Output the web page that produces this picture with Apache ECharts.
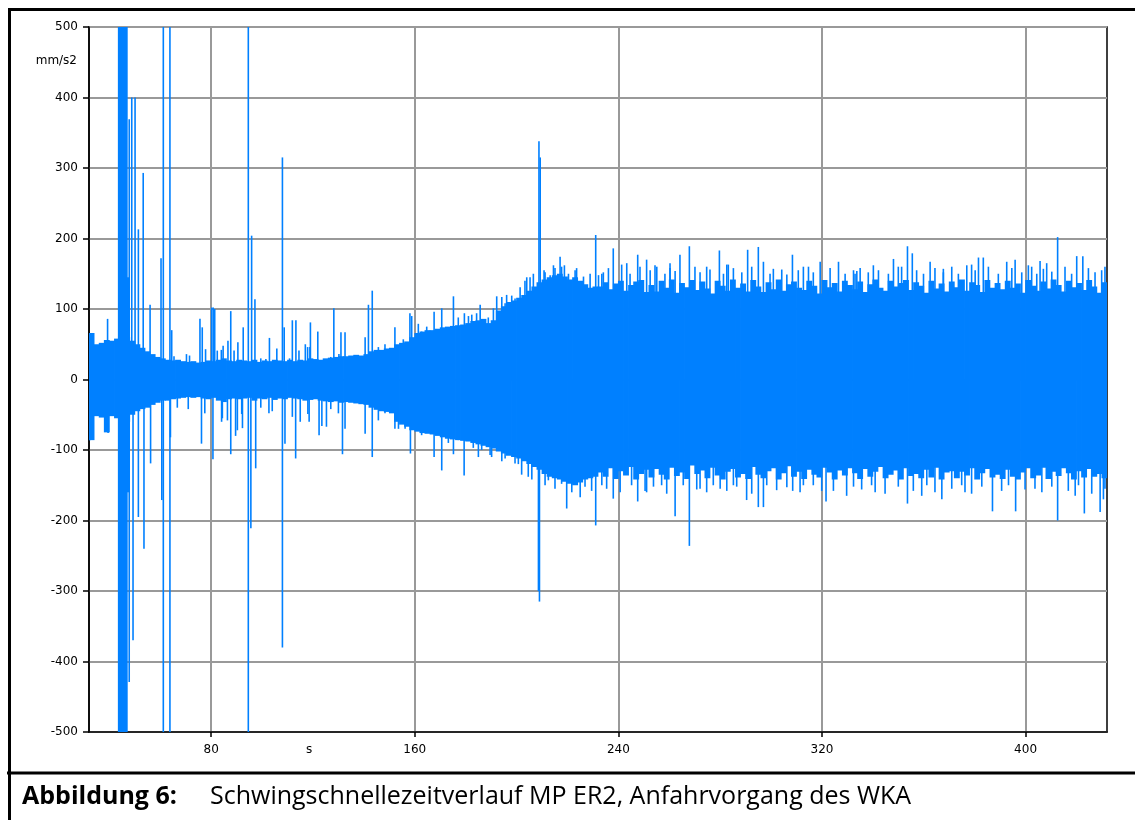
<!DOCTYPE html>
<html><head><meta charset="utf-8">
<script src="https://cdn.jsdelivr.net/npm/echarts@6/dist/echarts.min.js"></script>
<style>html,body{margin:0;padding:0;background:#fff}#c{width:1135px;height:820px}</style>
</head><body><div id="c"></div>
<script>
// ---- data ----
const xTickValues = [80, 160, 240, 320, 400];
const xLabelValues = [80, 118.5, 160, 240, 320, 400];
const xUnitLabel = 's';
const yUnitLabel = 'mm/s2';
const captionBold = 'Abbildung 6:';
const captionText = 'Schwingschnellezeitverlauf MP ER2, Anfahrvorgang des WKA';

// envelope of the dense signal band, one value per 2 s bin starting at 32 s
const envStart = 32;
const envStep = 2;
const envHi = [
  66,50,52,56,55,58,60,60,55,50,
  45,40,36,32,30,28,27,28,26,25,
  26,24,25,27,26,28,30,27,26,28,
  27,26,28,25,27,26,28,27,26,28,
  26,28,27,30,29,28,30,31,32,33,
  33,34,35,34,36,40,42,42,44,45,
  50,52,54,60,66,68,70,70,72,74,
  75,76,77,78,80,83,84,86,80,84,
  98,104,110,112,116,120,126,132,138,142,
  145,148,150,146,142,145,140,135,130,132,
  132,138,128,136,140,126,134,139,141,124,
  134,125,140,130,142,123,137,131,141,127,
  139,129,122,140,133,126,142,130,136,125,
  141,132,124,138,128,142,126,135,139,130,
  127,140,133,122,141,131,137,125,140,134,
  128,139,124,135,142,130,126,140,132,137,
  141,127,138,133,123,140,129,136,125,139,
  131,142,126,138,134,124,141,130,137,128,
  140,130,136,123,141,133,126,139,129,142,
  134,125,140,131,137,127,141,132,123,138
];
const envLo = [
  -86,-52,-54,-75,-52,-55,-60,-60,-50,-45,
  -42,-40,-36,-33,-30,-30,-28,-27,-26,-25,
  -26,-25,-27,-28,-26,-30,-32,-28,-27,-28,
  -27,-26,-30,-27,-28,-26,-29,-27,-28,-26,
  -27,-28,-30,-29,-28,-30,-31,-32,-31,-33,
  -32,-33,-34,-35,-36,-40,-43,-45,-46,-48,
  -60,-64,-67,-72,-74,-76,-77,-78,-80,-82,
  -84,-85,-86,-87,-88,-90,-92,-94,-96,-98,
  -102,-105,-108,-110,-112,-116,-120,-124,-128,-134,
  -138,-140,-142,-145,-148,-150,-146,-142,-140,-138,
  -132,-138,-126,-141,-130,-136,-124,-142,-134,-128,
  -139,-127,-135,-142,-125,-137,-132,-141,-122,-134,
  -129,-140,-125,-136,-142,-131,-127,-139,-134,-141,
  -124,-135,-140,-130,-126,-142,-133,-123,-138,-131,
  -141,-128,-135,-139,-125,-132,-142,-129,-136,-126,
  -133,-141,-127,-138,-131,-124,-140,-135,-129,-142,
  -126,-137,-134,-140,-128,-139,-125,-142,-132,-130,
  -140,-131,-136,-126,-142,-133,-127,-139,-135,-141,
  -128,-138,-142,-132,-126,-140,-136,-125,-141,-131,
  -137,-126,-133,-142,-130,-139,-127,-138,-134,-140
];

// large burst blocks: [start, end, low, high]
const bursts = [[43.5, 47.05, -520, 520], [46.8, 47.9, -160, 145]];

// prominent single spikes: [time, value]
const bigSpikesUp = [[39.3,86],[47.8,369],[48.8,400],[50.1,400],[51.4,213],[53.3,293],[56.0,106],[60.3,172],[61.2,520],[63.8,520],[64.5,70],[75.6,86],[76.5,74],[80.2,102],[80.8,102],[81.4,100],[84.7,48],[87.7,97],[90.5,53],[92.6,74],[94.6,520],[95.9,204],[97.2,114],[102.9,59],[105.8,44],[108.0,315],[108.7,74],[111.9,84],[113.3,84],[117.0,50],[119.0,81],[121.9,68],[128.2,101],[131.0,67],
  [132.6,67],[140.5,60],[141.8,106],[143.3,126],[152.2,74],[158.1,94],[158.8,90],[161.4,79],[167.6,96],[170.6,101],[175.2,118],[179.5,94],[182.4,92],[185.7,106],[192.2,118],[194.2,117],[196.1,120],[198.1,119],[201.4,131],[204.0,145],[205.3,145],[208.8,338],[209.3,315],[210.8,155],[214.5,162],[217.1,174],[218.8,162],[223.6,158],[231.1,205],[233.5,150],
  [238.0,186],[243.3,165],[247.6,177],[251.1,170],[255.1,160],[260.3,165],[264.2,177],[267.9,189],[274.7,160],[279.7,183],[282.6,163],[290.8,184],[295.0,188],[297.0,167],[300.9,157],[308.4,177],[312.7,160],[319.3,167],[326.5,167],[332.4,155],
  [333.0,150],[342.2,155],[348.1,171],[351.3,160],[353.6,189],[355.5,179],[362.5,167],[367.7,157],[376.9,162],[381.5,173],[383.4,173],[392.6,167],[395.9,170],[402.4,160],[405.7,168],[408.3,165],[412.6,202],[420.1,175],[422.5,175],[429.9,155]];
const bigSpikesDown = [[32.3,-86],[39.5,-76],[47.8,-429],[49.3,-370],[51.4,-195],[53.6,-240],[56.2,-119],[60.6,-171],[61.2,-520],[63.8,-520],[64.0,-82],[76.2,-91],[80.7,-113],[84.1,-60],[87.7,-106],[89.6,-80],[92.3,-69],[94.6,-520],[95.6,-211],[97.5,-126],[102.7,-48],[108.0,-380],[109.0,-91],[113.2,-112],[118.5,-60],[122.4,-79],[125.3,-67],[131.6,-106],
  [132.6,-70],[140.5,-77],[143.3,-110],[152.2,-70],[158.3,-105],[167.6,-110],[170.6,-129],[175.2,-106],[179.4,-136],[185.0,-110],[190.2,-110],[194.2,-116],[200.7,-120],[204.6,-138],[208.6,-300],[209.0,-315],[212.5,-143],[219.7,-183],[225.0,-167],[231.1,-207],
  [238.0,-169],[247.6,-173],[251.1,-160],[257.0,-150],[262.3,-194],[267.9,-236],[272.1,-155],[280.0,-155],[285.2,-150],[290.4,-171],[295.0,-181],[297.0,-181],[308.5,-158],[312.7,-150],[319.9,-158],[321.6,-173],[329.7,-165],
  [340.9,-160],[353.6,-176],[359.2,-165],[367.1,-170],[376.2,-160],[387.0,-187],[396.1,-187],[403.7,-155],[412.6,-200],[419.5,-165],[423.1,-190],[429.3,-188],[430.6,-170]];

// smaller teeth on the edges of the band: [time, value]
const teethUp = [[65.4,33],[70.3,36],[71.5,34],[77.8,43],[82.4,41],[84.0,42],[86.6,55],[89.0,41],[99.5,30],[101.5,29],[110.8,30],[114.5,41],[117.9,46],[118.8,46],[127.0,32],[130.2,36],
  [145.7,46],[148.3,50],[155.5,57],[162.7,68],[164.7,75],[173.2,72],[177.1,88],[181.1,90],[184.3,94],[188.9,88],[190.9,101],[195.5,108],[199.4,115],
  [203.3,140],[206.6,150],[211.2,152],[213.2,148],[215.1,158],[217.7,160],[220.4,150],[223.0,155],[226.3,146],[228.9,150],[232.2,148],
  [234.1,152],[236.1,158],[241.3,163],[244.6,150],[248.5,160],[252.5,155],[254.4,162],[258.3,150],[260.3,158],[262.3,154],[270.1,160],[272.1,152],[276.0,156],[281.3,150],[283.2,163],[285.2,158],[288.5,152],[292.4,160],[299.6,150],[304.2,156],[306.2,149],[310.7,155],[314.7,160],[316.6,152],[323.2,158],[329.1,150],[333.7,154],
  [335.0,158],[338.2,152],[340.2,162],[346.1,150],[350.0,160],[357.2,155],[359.9,150],[364.4,158],[367.7,152],[371.0,160],[373.6,150],[378.8,163],[380.2,155],[385.4,160],[389.3,150],[394.6,158],[398.5,152],[401.1,162],[404.4,150],[407.0,157],[410.3,153],[415.5,160],[418.1,150],[424.7,158],[427.3,152],[431.2,160]];
const teethDown = [[66.7,-40],[71.0,-42],[77.5,-48],[84.4,-55],[86.4,-58],[90.3,-72],[92.0,-49],[99.5,-40],[104.0,-45],[111.9,-53],[115.0,-60],[118.0,-49],[123.5,-66],[127.0,-42],[130.0,-48],
  [145.7,-58],[148.3,-48],[153.6,-70],[156.2,-70],[162.7,-79],[166.7,-72],[173.2,-90],[177.1,-86],[183.0,-97],[186.3,-100],[189.6,-107],[195.5,-112],[199.4,-119],
  [202.0,-135],[206.0,-142],[211.2,-150],[215.1,-155],[217.7,-148],[221.7,-160],[226.9,-152],[229.5,-158],[233.5,-150],
  [235.4,-155],[240.7,-160],[245.2,-150],[250.5,-158],[253.8,-152],[259.0,-162],[265.5,-150],[270.8,-156],[274.7,-160],[277.3,-150],[282.6,-158],[286.5,-152],[292.4,-162],[298.3,-150],[302.2,-157],[306.2,-153],[311.4,-160],[316.6,-150],[324.5,-158],[332.4,-152],
  [335.6,-156],[339.5,-150],[344.8,-162],[350.0,-152],[355.9,-158],[361.2,-150],[364.4,-160],[371.0,-155],[374.9,-150],[378.8,-162],[382.8,-152],[390.6,-158],[393.3,-150],[399.8,-156],[406.4,-160],[410.3,-152],[416.8,-158],[420.8,-150],[426.0,-162],[431.2,-155]];

// ---- build series data ----
const envData = envHi.map((h, i) => [envStart + i * envStep, envStart + (i + 1) * envStep, envLo[i], h]);
const spikeData = bigSpikesUp.concat(bigSpikesDown, teethUp, teethDown);

const BLUE = '#0080ff';

function clampBox(cs, x0, y0, x1, y1) {
  const l = Math.max(Math.min(x0, x1), cs.x), r = Math.min(Math.max(x0, x1), cs.x + cs.width);
  const t = Math.max(Math.min(y0, y1), cs.y), b = Math.min(Math.max(y0, y1), cs.y + cs.height);
  return {x: l, y: t, width: Math.max(0, r - l), height: Math.max(0, b - t)};
}

function renderBand(params, api) {
  const p0 = api.coord([api.value(0), api.value(3)]);
  const p1 = api.coord([api.value(1), api.value(2)]);
  // small overlap so neighbouring bins join without seams
  return {type: 'rect', shape: clampBox(params.coordSys, p0[0] - 0.4, p0[1], p1[0] + 0.4, p1[1]), style: {fill: BLUE}};
}
function renderSpike(params, api) {
  const p0 = api.coord([api.value(0), 0]);
  const p1 = api.coord([api.value(0), api.value(1)]);
  return {type: 'rect', shape: clampBox(params.coordSys, p0[0] - 0.8, p0[1], p0[0] + 0.8, p1[1]), style: {fill: BLUE}};
}

const chart = echarts.init(document.getElementById('c'), null, {renderer: 'canvas'});
const labelFont = {fontFamily: 'DejaVu Sans', fontSize: 12, color: '#000'};

chart.setOption({
  animation: false,
  backgroundColor: '#fff',
  grid: {left: 89, top: 27, width: 1018, height: 705, show: true, borderColor: '#000', borderWidth: 1.5, backgroundColor: 'transparent'},
  xAxis: {
    type: 'value', min: 32, max: 432,
    axisLine: {show: true, onZero: false, lineStyle: {color: '#000', width: 1.5}},
    axisTick: {show: true, length: 5, customValues: xTickValues, lineStyle: {color: '#000', width: 1.5}},
    axisLabel: Object.assign({customValues: xLabelValues, margin: 12, formatter: v => (v === 118.5 ? xUnitLabel : String(v))}, labelFont),
    splitLine: {show: true, lineStyle: {color: '#999', width: 2}}
  },
  yAxis: {
    type: 'value', min: -500, max: 500, interval: 100,
    axisLine: {show: true, lineStyle: {color: '#000', width: 1.5}},
    axisTick: {show: true, length: 6, lineStyle: {color: '#000', width: 1.5}},
    axisLabel: Object.assign({margin: 11}, labelFont),
    splitLine: {show: true, lineStyle: {color: '#999', width: 2}}
  },
  series: [
    {type: 'custom', silent: true, renderItem: renderBand, data: envData, encode: {x: [0, 1], y: [2, 3]}, z: 3},
    {type: 'custom', silent: true, renderItem: renderBand, data: bursts, encode: {x: [0, 1], y: [2, 3]}, z: 3},
    {type: 'custom', silent: true, renderItem: renderSpike, data: spikeData, encode: {x: 0, y: 1}, z: 3}
  ],
  graphic: [
    {type: 'rect', left: 7, top: 7, shape: {x: 0, y: 0, width: 1140, height: 820}, style: {fill: 'none', stroke: '#000', lineWidth: 3}, z: 100, silent: true},
    {type: 'line', shape: {x1: 7, y1: 773, x2: 1135, y2: 773}, style: {stroke: '#000', lineWidth: 3}, z: 100, silent: true},
    {type: 'text', x: 77, y: 61, style: {text: yUnitLabel, align: 'right', verticalAlign: 'middle', fontFamily: 'DejaVu Sans', fontSize: 12, fill: '#000'}, z: 100},
    {type: 'text', x: 22, y: 797, style: {text: captionBold, fontFamily: 'Open Sans', fontWeight: 'bold', fontSize: 25, fill: '#000', verticalAlign: 'middle'}, z: 100},
    {type: 'text', x: 210, y: 797, style: {text: captionText, fontFamily: 'Open Sans', fontSize: 25, fill: '#000', verticalAlign: 'middle'}, z: 100}
  ]
});
</script>
</body></html>
